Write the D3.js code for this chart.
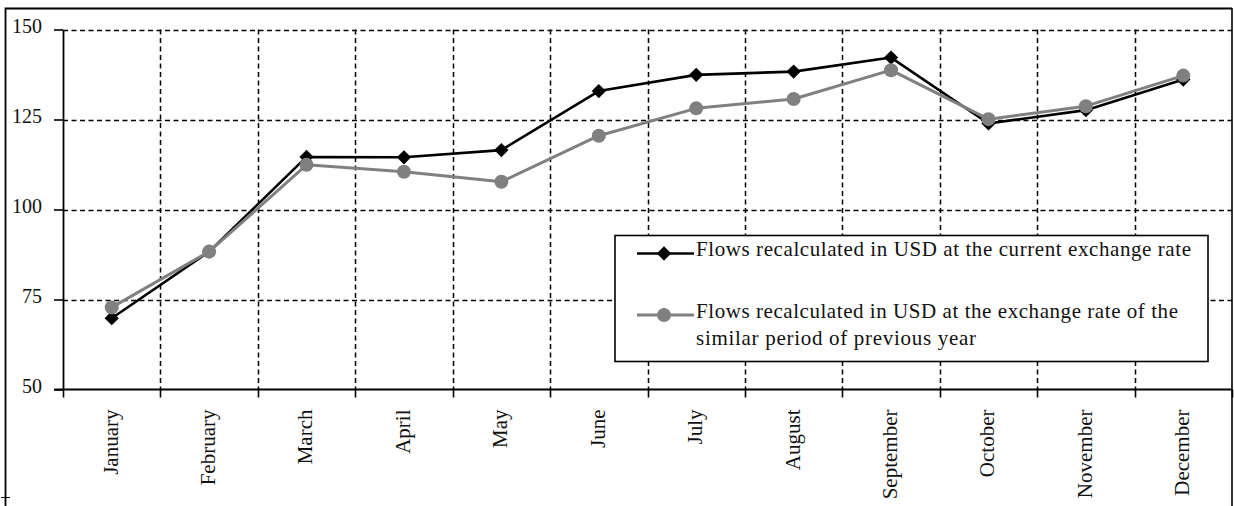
<!DOCTYPE html>
<html>
<head>
<meta charset="utf-8">
<script src="https://cdn.jsdelivr.net/npm/d3@7"></script>
<style>
  html, body { margin: 0; padding: 0; background: #fff; }
  svg { display: block; font-family: "Liberation Serif", "Times New Roman", serif; }
</style>
</head>
<body>
<div id="chart"></div>
<script>
const months = ['January', 'February', 'March', 'April', 'May', 'June', 'July',
  'August', 'September', 'October', 'November', 'December'];
const currentRate = [69.8, 88.3, 114.6, 114.5, 116.5, 132.9, 137.4, 138.3, 142.2, 123.9, 127.6, 136.1];
const previousRate = [72.8, 88.3, 112.4, 110.5, 107.7, 120.5, 128.1, 130.7, 138.7, 125.1, 128.7, 137.2];
const yTicks = [50, 75, 100, 125, 150];
const legendLabels = [
  ['Flows recalculated in USD at the current exchange rate'],
  ['Flows recalculated in USD at the exchange rate of the', 'similar period of previous year']
];

const width = 1234;
const height = 506;
const plot = { left: 63, right: 1232, top: 29.5, bottom: 389.5 };

const svg = d3.select('#chart')
  .append('svg')
  .attr('width', width)
  .attr('height', height);

// outer frame (cut at the bottom)
svg.append('path')
  .attr('d', `M5.5,${height} V8.5 H1232`)
  .attr('fill', 'none')
  .attr('stroke', '#000')
  .attr('stroke-width', 1.8);
svg.append('line')
  .attr('x1', 1232).attr('x2', 1232).attr('y1', 8).attr('y2', height)
  .attr('stroke', '#000').attr('stroke-width', 1.6);
svg.append('line')
  .attr('x1', 1).attr('x2', 10).attr('y1', 497.5).attr('y2', 497.5)
  .attr('stroke', '#000').attr('stroke-width', 1);

/**
 * scales
 */
const x = d3.scaleBand().domain(months).range([plot.left, plot.right]).padding(0);
const y = d3.scaleLinear().domain([50, 150]).range([plot.bottom, plot.top]);
const bounds = d3.range(months.length + 1).map(i => plot.left + i * x.step());

// grid
const grid = svg.append('g')
  .attr('stroke', '#000')
  .attr('stroke-width', 1.5)
  .attr('stroke-dasharray', '5,3.5');
grid.selectAll('.hg')
  .data(yTicks.filter(d => d > 50))
  .enter()
  .append('line')
  .attr('x1', plot.left).attr('x2', plot.right)
  .attr('y1', d => Math.round(y(d)) + 0.5).attr('y2', d => Math.round(y(d)) + 0.5);
grid.selectAll('.vg')
  .data(bounds.slice(1, -1))
  .enter()
  .append('line')
  .attr('x1', d => Math.round(d) + 0.5).attr('x2', d => Math.round(d) + 0.5)
  .attr('y1', plot.top).attr('y2', plot.bottom);

// y axis
const yAxis = svg.append('g')
  .attr('transform', `translate(${plot.left},0)`)
  .call(d3.axisLeft(y).tickValues(yTicks).tickSize(9).tickSizeOuter(0).tickPadding(12));
yAxis.select('.domain').attr('stroke-width', 1.8);
yAxis.selectAll('.tick line').attr('stroke-width', 1.6);
yAxis.selectAll('.tick text')
  .attr('font-size', 20)
  .attr('font-family', '"Liberation Serif", serif')
  .attr('fill', '#111')
  .attr('dy', '0.17em');

// x axis
const xAxis = svg.append('g')
  .attr('transform', `translate(0,${plot.bottom})`);
xAxis.append('line')
  .attr('x1', plot.left - 9).attr('x2', plot.right)
  .attr('stroke', '#000').attr('stroke-width', 1.9);
xAxis.selectAll('.xt')
  .data(bounds)
  .enter()
  .append('line')
  .attr('x1', d => Math.round(d) + 0.5).attr('x2', d => Math.round(d) + 0.5)
  .attr('y1', 0).attr('y2', 8)
  .attr('stroke', '#000').attr('stroke-width', 1.6);
xAxis.selectAll('.xl')
  .data(months)
  .enter()
  .append('text')
  .attr('transform', d => `translate(${x(d) + x.bandwidth() / 2 - 1},${20}) rotate(-90)`)
  .attr('text-anchor', 'end')
  .attr('dy', '0.33em')
  .attr('font-size', 21)
  .attr('fill', '#111')
  .text(d => d);

// series
const series = [
  { values: currentRate, color: '#000', width: 2.6, marker: 'diamond' },
  { values: previousRate, color: '#808080', width: 3, marker: 'circle' }
];
const line = d3.line()
  .x((d, i) => x(months[i]) + x.bandwidth() / 2)
  .y(d => y(d));

const diamond = d3.symbol().type(d3.symbolDiamond2).size(130);
const drawMarker = (sel, s) => {
  if (s.marker === 'diamond') {
    sel.append('path').attr('d', diamond).attr('fill', s.color);
  } else {
    sel.append('circle').attr('r', 7).attr('fill', s.color);
  }
};

series.forEach(s => {
  svg.append('path')
    .datum(s.values)
    .attr('d', line)
    .attr('fill', 'none')
    .attr('stroke', s.color)
    .attr('stroke-width', s.width)
    .attr('stroke-linejoin', 'round');
  svg.selectAll(null)
    .data(s.values)
    .enter()
    .append('g')
    .attr('transform', (d, i) => `translate(${x(months[i]) + x.bandwidth() / 2},${y(d)})`)
    .each(function() { drawMarker(d3.select(this), s); });
});

// legend
const legend = svg.append('g');
legend.append('rect')
  .attr('x', 615).attr('y', 235.5)
  .attr('width', 593).attr('height', 126)
  .attr('fill', '#fff')
  .attr('stroke', '#000')
  .attr('stroke-width', 1.6);

const legendRows = [253.5, 315];
const legendWidths = [[495], [482, 280]];
series.forEach((s, i) => {
  const g = legend.append('g').attr('transform', `translate(0,${legendRows[i]})`);
  g.append('line')
    .attr('x1', 637).attr('x2', 694)
    .attr('stroke', s.color).attr('stroke-width', s.width);
  const m = g.append('g').attr('transform', 'translate(664,0)');
  drawMarker(m, s);
  legendLabels[i].forEach((t, j) => {
    g.append('text')
      .attr('x', 696)
      .attr('y', 2.5 + j * 27.5)
      .attr('font-size', 21)
      .attr('fill', '#111')
      .attr('textLength', legendWidths[i][j])
      .attr('lengthAdjust', 'spacing')
      .text(t);
  });
});
</script>
</body>
</html>
